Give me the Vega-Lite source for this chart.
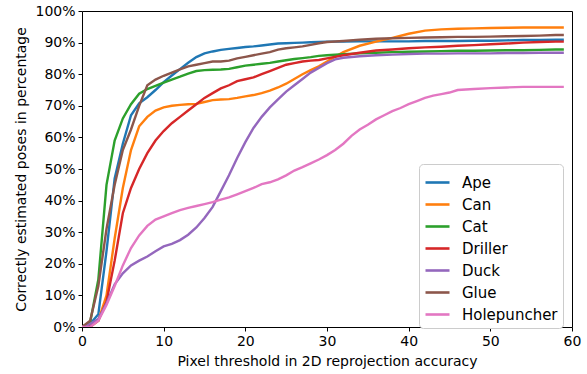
{
  "$schema": "https://vega.github.io/schema/vega-lite/v6.json",
  "width": 490,
  "height": 316,
  "autosize": {"type": "none"},
  "padding": {"left": 82, "top": 11, "right": 15, "bottom": 47},
  "background": "white",
  "config": {
    "font": "DejaVu Sans",
    "view": {"stroke": "black", "strokeWidth": 1},
    "axis": {
      "grid": false,
      "domain": false,
      "tickColor": "black",
      "tickSize": 4,
      "labelColor": "black",
      "titleColor": "black",
      "labelFontSize": 14,
      "titleFontSize": 14,
      "titleFontWeight": "normal",
      "labelPadding": 3
    }
  },
  "data": {"values": [
    {"o":"Ape","x":0,"y":0},{"o":"Ape","x":1,"y":1},{"o":"Ape","x":2,"y":4},{"o":"Ape","x":3,"y":24},{"o":"Ape","x":4,"y":47},{"o":"Ape","x":5,"y":58},{"o":"Ape","x":6,"y":67},{"o":"Ape","x":7,"y":70.8},{"o":"Ape","x":8,"y":72.7},{"o":"Ape","x":9,"y":75},{"o":"Ape","x":10,"y":77.5},{"o":"Ape","x":11,"y":79.6},{"o":"Ape","x":12,"y":81.6},{"o":"Ape","x":13,"y":83.6},{"o":"Ape","x":14,"y":85.4},{"o":"Ape","x":15,"y":86.6},{"o":"Ape","x":16,"y":87.2},{"o":"Ape","x":17,"y":87.7},{"o":"Ape","x":18,"y":88},{"o":"Ape","x":19,"y":88.3},{"o":"Ape","x":20,"y":88.6},{"o":"Ape","x":21,"y":88.8},{"o":"Ape","x":22,"y":89.1},{"o":"Ape","x":23,"y":89.4},{"o":"Ape","x":24,"y":89.7},{"o":"Ape","x":25,"y":89.8},{"o":"Ape","x":26,"y":89.9},{"o":"Ape","x":27,"y":90},{"o":"Ape","x":28,"y":90.1},{"o":"Ape","x":29,"y":90.2},{"o":"Ape","x":30,"y":90.3},{"o":"Ape","x":32,"y":90.3},{"o":"Ape","x":34,"y":90.4},{"o":"Ape","x":36,"y":90.4},{"o":"Ape","x":38,"y":90.4},{"o":"Ape","x":40,"y":90.4},{"o":"Ape","x":42,"y":90.5},{"o":"Ape","x":44,"y":90.5},{"o":"Ape","x":46,"y":90.5},{"o":"Ape","x":48,"y":90.6},{"o":"Ape","x":50,"y":90.6},{"o":"Ape","x":52,"y":90.7},{"o":"Ape","x":54,"y":90.8},{"o":"Ape","x":56,"y":90.8},{"o":"Ape","x":58,"y":90.9},{"o":"Ape","x":59,"y":90.9},
    {"o":"Can","x":0,"y":0},{"o":"Can","x":1,"y":0},{"o":"Can","x":2,"y":2},{"o":"Can","x":3,"y":10},{"o":"Can","x":4,"y":28},{"o":"Can","x":5,"y":44},{"o":"Can","x":6,"y":56},{"o":"Can","x":7,"y":63.5},{"o":"Can","x":8,"y":66.5},{"o":"Can","x":9,"y":68.5},{"o":"Can","x":10,"y":69.5},{"o":"Can","x":11,"y":70},{"o":"Can","x":12,"y":70.3},{"o":"Can","x":13,"y":70.5},{"o":"Can","x":14,"y":70.6},{"o":"Can","x":15,"y":71.2},{"o":"Can","x":16,"y":71.8},{"o":"Can","x":17,"y":72},{"o":"Can","x":18,"y":72.1},{"o":"Can","x":19,"y":72.5},{"o":"Can","x":20,"y":73},{"o":"Can","x":21,"y":73.4},{"o":"Can","x":22,"y":74},{"o":"Can","x":23,"y":74.8},{"o":"Can","x":24,"y":75.8},{"o":"Can","x":25,"y":77},{"o":"Can","x":26,"y":78.5},{"o":"Can","x":27,"y":80},{"o":"Can","x":28,"y":81.3},{"o":"Can","x":29,"y":82.5},{"o":"Can","x":30,"y":84},{"o":"Can","x":31,"y":85.5},{"o":"Can","x":32,"y":87},{"o":"Can","x":34,"y":89},{"o":"Can","x":36,"y":90.3},{"o":"Can","x":38,"y":91.5},{"o":"Can","x":40,"y":92.8},{"o":"Can","x":42,"y":93.8},{"o":"Can","x":44,"y":94.2},{"o":"Can","x":46,"y":94.4},{"o":"Can","x":48,"y":94.5},{"o":"Can","x":50,"y":94.6},{"o":"Can","x":52,"y":94.7},{"o":"Can","x":54,"y":94.8},{"o":"Can","x":56,"y":94.8},{"o":"Can","x":58,"y":94.8},{"o":"Can","x":59,"y":94.8},
    {"o":"Cat","x":0,"y":0},{"o":"Cat","x":1,"y":1.5},{"o":"Cat","x":2,"y":15},{"o":"Cat","x":3,"y":45},{"o":"Cat","x":4,"y":59},{"o":"Cat","x":5,"y":66},{"o":"Cat","x":6,"y":70.5},{"o":"Cat","x":7,"y":73.8},{"o":"Cat","x":8,"y":75.3},{"o":"Cat","x":9,"y":76.3},{"o":"Cat","x":10,"y":77.3},{"o":"Cat","x":11,"y":78.3},{"o":"Cat","x":12,"y":79.2},{"o":"Cat","x":13,"y":80.2},{"o":"Cat","x":14,"y":81},{"o":"Cat","x":15,"y":81.3},{"o":"Cat","x":16,"y":81.4},{"o":"Cat","x":17,"y":81.5},{"o":"Cat","x":18,"y":81.7},{"o":"Cat","x":19,"y":82.2},{"o":"Cat","x":20,"y":82.7},{"o":"Cat","x":21,"y":83},{"o":"Cat","x":22,"y":83.3},{"o":"Cat","x":23,"y":83.6},{"o":"Cat","x":24,"y":84},{"o":"Cat","x":25,"y":84.4},{"o":"Cat","x":26,"y":84.8},{"o":"Cat","x":27,"y":85.1},{"o":"Cat","x":28,"y":85.4},{"o":"Cat","x":29,"y":85.8},{"o":"Cat","x":30,"y":86},{"o":"Cat","x":32,"y":86.3},{"o":"Cat","x":34,"y":86.6},{"o":"Cat","x":36,"y":86.8},{"o":"Cat","x":38,"y":87},{"o":"Cat","x":40,"y":87.1},{"o":"Cat","x":42,"y":87.2},{"o":"Cat","x":44,"y":87.3},{"o":"Cat","x":46,"y":87.4},{"o":"Cat","x":48,"y":87.4},{"o":"Cat","x":50,"y":87.5},{"o":"Cat","x":52,"y":87.6},{"o":"Cat","x":54,"y":87.6},{"o":"Cat","x":56,"y":87.7},{"o":"Cat","x":58,"y":87.8},{"o":"Cat","x":59,"y":87.8},
    {"o":"Driller","x":0,"y":0},{"o":"Driller","x":1,"y":0.5},{"o":"Driller","x":2,"y":2},{"o":"Driller","x":3,"y":8},{"o":"Driller","x":4,"y":21},{"o":"Driller","x":5,"y":36},{"o":"Driller","x":6,"y":44},{"o":"Driller","x":7,"y":50},{"o":"Driller","x":8,"y":55},{"o":"Driller","x":9,"y":59},{"o":"Driller","x":10,"y":62},{"o":"Driller","x":11,"y":64.5},{"o":"Driller","x":12,"y":66.5},{"o":"Driller","x":13,"y":68.5},{"o":"Driller","x":14,"y":70.5},{"o":"Driller","x":15,"y":72.5},{"o":"Driller","x":16,"y":74},{"o":"Driller","x":17,"y":75.5},{"o":"Driller","x":18,"y":76.5},{"o":"Driller","x":19,"y":77.8},{"o":"Driller","x":20,"y":78.4},{"o":"Driller","x":21,"y":79},{"o":"Driller","x":22,"y":80},{"o":"Driller","x":23,"y":81},{"o":"Driller","x":24,"y":82},{"o":"Driller","x":25,"y":83},{"o":"Driller","x":26,"y":83.5},{"o":"Driller","x":27,"y":84},{"o":"Driller","x":28,"y":84.3},{"o":"Driller","x":29,"y":84.5},{"o":"Driller","x":30,"y":85},{"o":"Driller","x":32,"y":86},{"o":"Driller","x":34,"y":86.8},{"o":"Driller","x":36,"y":87.5},{"o":"Driller","x":38,"y":87.8},{"o":"Driller","x":40,"y":88.2},{"o":"Driller","x":42,"y":88.5},{"o":"Driller","x":44,"y":88.7},{"o":"Driller","x":46,"y":89},{"o":"Driller","x":48,"y":89.2},{"o":"Driller","x":50,"y":89.5},{"o":"Driller","x":52,"y":89.7},{"o":"Driller","x":54,"y":90},{"o":"Driller","x":56,"y":90.2},{"o":"Driller","x":58,"y":90.3},{"o":"Driller","x":59,"y":90.3},
    {"o":"Duck","x":0,"y":0},{"o":"Duck","x":1,"y":1},{"o":"Duck","x":2,"y":2.5},{"o":"Duck","x":3,"y":7.5},{"o":"Duck","x":4,"y":13.5},{"o":"Duck","x":5,"y":17},{"o":"Duck","x":6,"y":19.5},{"o":"Duck","x":7,"y":21},{"o":"Duck","x":8,"y":22.3},{"o":"Duck","x":9,"y":24},{"o":"Duck","x":10,"y":25.5},{"o":"Duck","x":11,"y":26.3},{"o":"Duck","x":12,"y":27.5},{"o":"Duck","x":13,"y":29.2},{"o":"Duck","x":14,"y":31.5},{"o":"Duck","x":15,"y":34.5},{"o":"Duck","x":16,"y":38},{"o":"Duck","x":17,"y":43},{"o":"Duck","x":18,"y":48},{"o":"Duck","x":19,"y":53.5},{"o":"Duck","x":20,"y":58.5},{"o":"Duck","x":21,"y":63},{"o":"Duck","x":22,"y":66.5},{"o":"Duck","x":23,"y":69.5},{"o":"Duck","x":24,"y":72},{"o":"Duck","x":25,"y":74.5},{"o":"Duck","x":26,"y":76.5},{"o":"Duck","x":27,"y":78.5},{"o":"Duck","x":28,"y":80.5},{"o":"Duck","x":29,"y":82},{"o":"Duck","x":30,"y":83.5},{"o":"Duck","x":31,"y":84.7},{"o":"Duck","x":32,"y":85.2},{"o":"Duck","x":34,"y":85.7},{"o":"Duck","x":36,"y":86},{"o":"Duck","x":38,"y":86.2},{"o":"Duck","x":40,"y":86.4},{"o":"Duck","x":42,"y":86.5},{"o":"Duck","x":44,"y":86.5},{"o":"Duck","x":46,"y":86.6},{"o":"Duck","x":48,"y":86.6},{"o":"Duck","x":50,"y":86.6},{"o":"Duck","x":52,"y":86.7},{"o":"Duck","x":54,"y":86.7},{"o":"Duck","x":56,"y":86.8},{"o":"Duck","x":58,"y":86.8},{"o":"Duck","x":59,"y":86.8},
    {"o":"Glue","x":0,"y":0},{"o":"Glue","x":1,"y":2},{"o":"Glue","x":2,"y":13},{"o":"Glue","x":3,"y":31},{"o":"Glue","x":4,"y":45},{"o":"Glue","x":5,"y":56},{"o":"Glue","x":6,"y":62.5},{"o":"Glue","x":7,"y":70},{"o":"Glue","x":8,"y":76.5},{"o":"Glue","x":9,"y":78.3},{"o":"Glue","x":10,"y":79.5},{"o":"Glue","x":11,"y":80.5},{"o":"Glue","x":12,"y":81.5},{"o":"Glue","x":13,"y":82.5},{"o":"Glue","x":14,"y":83},{"o":"Glue","x":15,"y":83.5},{"o":"Glue","x":16,"y":84},{"o":"Glue","x":17,"y":84},{"o":"Glue","x":18,"y":84.3},{"o":"Glue","x":19,"y":85},{"o":"Glue","x":20,"y":85.5},{"o":"Glue","x":21,"y":86},{"o":"Glue","x":22,"y":86.5},{"o":"Glue","x":23,"y":87},{"o":"Glue","x":24,"y":87.8},{"o":"Glue","x":25,"y":88.2},{"o":"Glue","x":26,"y":88.5},{"o":"Glue","x":27,"y":88.8},{"o":"Glue","x":28,"y":89.3},{"o":"Glue","x":29,"y":89.8},{"o":"Glue","x":30,"y":90.2},{"o":"Glue","x":32,"y":90.5},{"o":"Glue","x":34,"y":90.9},{"o":"Glue","x":36,"y":91.2},{"o":"Glue","x":38,"y":91.4},{"o":"Glue","x":40,"y":91.5},{"o":"Glue","x":42,"y":91.6},{"o":"Glue","x":44,"y":91.7},{"o":"Glue","x":46,"y":91.8},{"o":"Glue","x":48,"y":91.8},{"o":"Glue","x":50,"y":91.9},{"o":"Glue","x":52,"y":92},{"o":"Glue","x":54,"y":92.1},{"o":"Glue","x":56,"y":92.2},{"o":"Glue","x":58,"y":92.4},{"o":"Glue","x":59,"y":92.4},
    {"o":"Holepuncher","x":0,"y":0},{"o":"Holepuncher","x":1,"y":0},{"o":"Holepuncher","x":2,"y":2},{"o":"Holepuncher","x":3,"y":7},{"o":"Holepuncher","x":4,"y":13},{"o":"Holepuncher","x":5,"y":19.5},{"o":"Holepuncher","x":6,"y":25},{"o":"Holepuncher","x":7,"y":29},{"o":"Holepuncher","x":8,"y":32},{"o":"Holepuncher","x":9,"y":34},{"o":"Holepuncher","x":10,"y":35},{"o":"Holepuncher","x":11,"y":36},{"o":"Holepuncher","x":12,"y":37},{"o":"Holepuncher","x":13,"y":37.7},{"o":"Holepuncher","x":14,"y":38.3},{"o":"Holepuncher","x":15,"y":38.9},{"o":"Holepuncher","x":16,"y":39.5},{"o":"Holepuncher","x":17,"y":40.3},{"o":"Holepuncher","x":18,"y":41},{"o":"Holepuncher","x":19,"y":42},{"o":"Holepuncher","x":20,"y":43},{"o":"Holepuncher","x":21,"y":44},{"o":"Holepuncher","x":22,"y":45.2},{"o":"Holepuncher","x":23,"y":45.8},{"o":"Holepuncher","x":24,"y":46.7},{"o":"Holepuncher","x":25,"y":48},{"o":"Holepuncher","x":26,"y":49.5},{"o":"Holepuncher","x":27,"y":50.6},{"o":"Holepuncher","x":28,"y":51.8},{"o":"Holepuncher","x":29,"y":53},{"o":"Holepuncher","x":30,"y":54.4},{"o":"Holepuncher","x":31,"y":56},{"o":"Holepuncher","x":32,"y":58},{"o":"Holepuncher","x":33,"y":60.5},{"o":"Holepuncher","x":34,"y":62.5},{"o":"Holepuncher","x":35,"y":64},{"o":"Holepuncher","x":36,"y":65.7},{"o":"Holepuncher","x":37,"y":67},{"o":"Holepuncher","x":38,"y":68.3},{"o":"Holepuncher","x":39,"y":69.3},{"o":"Holepuncher","x":40,"y":70.5},{"o":"Holepuncher","x":41,"y":71.5},{"o":"Holepuncher","x":42,"y":72.5},{"o":"Holepuncher","x":43,"y":73.2},{"o":"Holepuncher","x":44,"y":73.7},{"o":"Holepuncher","x":45,"y":74.2},{"o":"Holepuncher","x":46,"y":75},{"o":"Holepuncher","x":48,"y":75.3},{"o":"Holepuncher","x":50,"y":75.6},{"o":"Holepuncher","x":52,"y":75.8},{"o":"Holepuncher","x":54,"y":76},{"o":"Holepuncher","x":56,"y":76},{"o":"Holepuncher","x":58,"y":76},{"o":"Holepuncher","x":59,"y":76}
  ]},
  "mark": {"type": "line", "strokeWidth": 2.4, "clip": true},
  "encoding": {
    "x": {
      "field": "x", "type": "quantitative",
      "scale": {"domain": [0, 60], "nice": false, "zero": false},
      "axis": {"values": [0, 10, 20, 30, 40, 50, 60], "title": "Pixel threshold in 2D reprojection accuracy", "titlePadding": 6, "labelFlush": false}
    },
    "y": {
      "field": "y", "type": "quantitative",
      "scale": {"domain": [0, 100], "nice": false},
      "axis": {"values": [0, 10, 20, 30, 40, 50, 60, 70, 80, 90, 100], "labelExpr": "datum.value + '%'", "title": "Correctly estimated poses in percentage", "titlePadding": 6, "labelFlush": false}
    },
    "color": {
      "field": "o", "type": "nominal",
      "scale": {
        "domain": ["Ape", "Can", "Cat", "Driller", "Duck", "Glue", "Holepuncher"],
        "range": ["#1f77b4", "#ff7f0e", "#2ca02c", "#d62728", "#9467bd", "#8c564b", "#e377c2"]
      },
      "legend": {
        "title": null,
        "orient": "none",
        "legendX": 337,
        "legendY": 153,
        "symbolType": "stroke",
        "symbolSize": 576,
        "symbolStrokeWidth": 2.6,
        "labelFontSize": 15,
        "labelColor": "black",
        "labelOffset": 11,
        "rowPadding": 0,
        "padding": 5,
        "strokeColor": "#cccccc",
        "fillColor": "white",
        "cornerRadius": 4
      }
    }
  }
}
